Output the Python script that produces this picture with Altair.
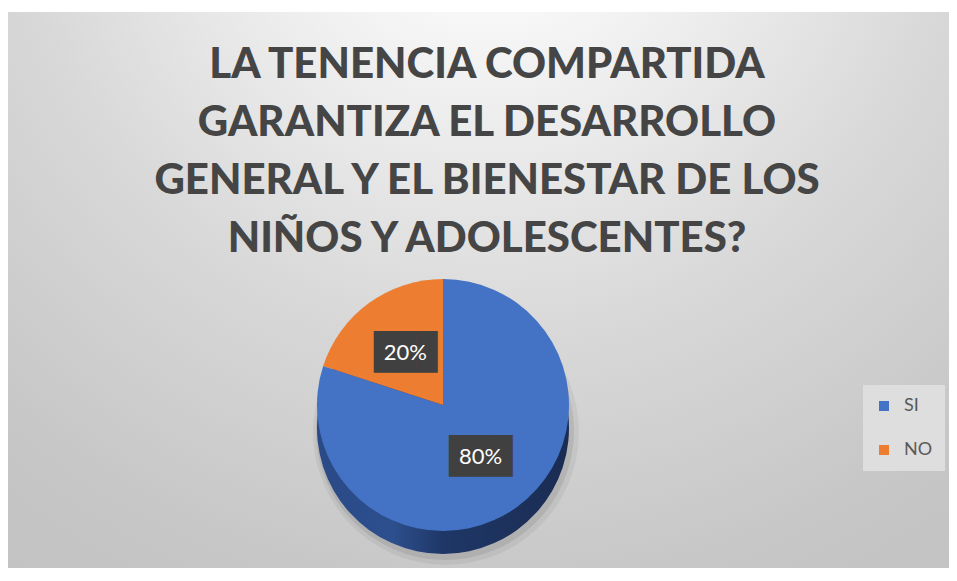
import altair as alt
import pandas as pd

# ---- data ----
categories = ["SI", "NO"]
values = [80, 20]
labels = ["80%", "20%"]
order = [0, 1]
colors = ["#4472c4", "#ed7d31"]
title_lines = [
    "LA TENENCIA COMPARTIDA",
    "GARANTIZA EL DESARROLLO",
    "GENERAL Y EL BIENESTAR DE LOS",
    "NIÑOS Y ADOLESCENTES?",
]

df = pd.DataFrame({"respuesta": categories, "valor": values,
                   "etiqueta": labels, "orden": order})
title_df = pd.DataFrame({"titulo": ["\n".join(title_lines)]})

# ---- layout ----
W, H = 941, 556
CX, CY = 435, 393
R = 126
DEPTH = 23
LABEL_R = 64

bg_gradient = alt.RadialGradient(
    gradient="radial",
    x1=0.51, y1=0.054, r1=0,
    x2=0.51, y2=0.054, r2=1,
    stops=[
        alt.GradientStop(offset=0, color="#ffffff"),
        alt.GradientStop(offset=0.12, color="#fafafa"),
        alt.GradientStop(offset=0.29, color="#ebebeb"),
        alt.GradientStop(offset=0.5, color="#d8d8d8"),
        alt.GradientStop(offset=0.78, color="#c6c6c6"),
        alt.GradientStop(offset=1, color="#c0c0c0"),
    ],
)

side_gradient = alt.LinearGradient(
    gradient="linear", x1=0, y1=0, x2=1, y2=0,
    stops=[
        alt.GradientStop(offset=0, color="#2a4a86"),
        alt.GradientStop(offset=0.3, color="#2d4f8e"),
        alt.GradientStop(offset=0.5, color="#1f3767"),
        alt.GradientStop(offset=1, color="#1a2c52"),
    ],
)

background = alt.Chart(title_df).mark_rect(fill=bg_gradient).encode(
    x=alt.value(0), x2=alt.value("width"),
    y=alt.value(0), y2=alt.value("height"),
)

base = alt.Chart(df).encode(
    theta=alt.Theta("valor:Q", stack=True),
    order=alt.Order("orden:Q"),
)

shadow_outer = base.mark_arc(radius=R + 7, fill="#000000", opacity=0.05).encode(
    x=alt.value(CX + 3), y=alt.value(CY + DEPTH + 4),
)
shadow_inner = base.mark_arc(radius=R + 3, fill="#000000", opacity=0.08).encode(
    x=alt.value(CX + 2), y=alt.value(CY + DEPTH + 3),
)

side = base.mark_arc(radius=R, fill=side_gradient).encode(
    x=alt.value(CX), y=alt.value(CY + DEPTH),
)

top = base.mark_arc(radius=R).encode(
    x=alt.value(CX), y=alt.value(CY),
    color=alt.Color(
        "respuesta:N",
        scale=alt.Scale(domain=categories, range=colors),
        legend=alt.Legend(
            title=None, orient="none", legendX=855, legendY=373,
            symbolType="square", symbolSize=100, symbolStrokeWidth=0,
            labelFont="Lato", labelFontSize=18, labelColor="#595959",
            labelOffset=11, rowPadding=26, padding=12,
            fillColor="#dedede",
        ),
    ),
)

boxes = base.mark_text(
    text="\u2588\u2588\u2588", font="DejaVu Sans Mono", fontSize=35,
    color="#404040", radius=LABEL_R, align="center", baseline="middle",
).encode(x=alt.value(CX), y=alt.value(CY))

slice_labels = base.mark_text(
    radius=LABEL_R, font="Lato", fontSize=22, color="#ffffff",
    align="center", baseline="middle",
).encode(x=alt.value(CX), y=alt.value(CY), text="etiqueta:N")

title = alt.Chart(title_df).mark_text(
    font="Lato", fontSize=42, fontWeight=900, color="#454545",
    align="center", baseline="top", lineBreak="\n", lineHeight=58,
).encode(x=alt.value(479), y=alt.value(33), text="titulo:N")

chart = alt.layer(background, shadow_outer, shadow_inner, side, top, boxes,
                  slice_labels, title).properties(
    width=W, height=H,
    autosize=alt.AutoSizeParams(type="none"),
    padding={"left": 0, "top": 4, "right": 0, "bottom": 0},
    background="#ffffff",
).configure_view(stroke="transparent")

chart.save("out.html", embed_options={"renderer": "svg", "actions": False})
